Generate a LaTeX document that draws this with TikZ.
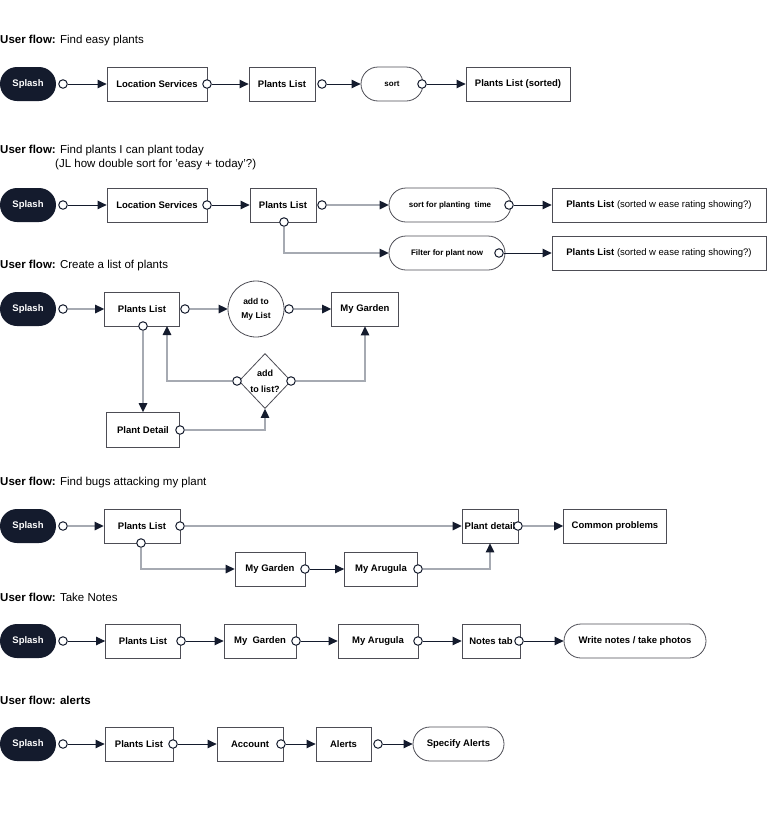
\documentclass[tikz,border=0pt]{standalone}
\usepackage{fontspec}
\setmainfont{Liberation Sans}
\usetikzlibrary{shapes.geometric,arrows.meta}
\definecolor{navy}{HTML}{141B2D}
\definecolor{edge}{HTML}{4D4D55}
\definecolor{wire}{HTML}{A6AAB2}
\tikzstyle{splash}=[rectangle,rounded corners=17pt,fill=navy,text=white,
font=\bfseries\fontsize{9.5}{11}\selectfont,minimum width=56pt,minimum height=34pt,inner sep=0pt]
\tikzstyle{screen}=[rectangle,draw=edge,fill=white,line width=0.8pt,
font=\bfseries\fontsize{9.5}{11}\selectfont,minimum height=34pt,inner sep=0pt]
\tikzstyle{action}=[screen,rounded corners=17pt]
\tikzstyle{small}=[font=\bfseries\fontsize{8}{9}\selectfont]
\tikzstyle{port}=[circle,draw=navy,fill=white,line width=1pt,inner sep=0pt,minimum size=8.5pt]
\tikzstyle{title}=[anchor=west,inner sep=0pt,font=\fontsize{11.5}{13}\selectfont]
\tikzstyle{flow}=[-{Triangle[length=9pt,width=8.5pt,color=navy]},draw=navy,line width=0.9pt]
\tikzstyle{link}=[flow,draw=wire,line width=1.4pt]

\begin{document}
\begin{tikzpicture}[x=1pt,y=-1pt]
	\useasboundingbox (0,0) rectangle (774,825);
	
	% find easy plants
	\node  (t1)   at (0,41) [title] {\textbf{User flow:} Find easy plants};
	\node  (a0)   at (28,84) [splash] {Splash};
	\node  (a0p)  at (63,84) [port] {};
	\node  (a1)   at (157,84) [screen,minimum width=100pt] {Location Services};
	\node  (a1p)  at (207,84) [port] {};
	\node  (a2)   at (282,84) [screen,minimum width=66pt] {Plants List};
	\node  (a2p)  at (322,84) [port] {};
	\node  (a3)   at (392,84) [action,small,minimum width=62pt] {sort};
	\node  (a3p)  at (422,84) [port] {};
	\node  (a4)   at (518,84) [screen,minimum width=104pt] {Plants List (sorted)};
	
	\draw [flow] (a0p) to (a1);
	\draw [flow] (a1p) to (a2);
	\draw [flow] (a2p) to (a3);
	\draw [flow] (a3p) to (a4);
	
	% find plants i can plant today
	\node  (t2)   at (0,151) [title] {\textbf{User flow:} Find plants I can plant today};
	\node  (t2b)  at (55,165) [title] {(JL how double sort for 'easy + today'?)};
	\node  (b0)   at (28,205) [splash] {Splash};
	\node  (b0p)  at (63,205) [port] {};
	\node  (b1)   at (157,205) [screen,minimum width=100pt] {Location Services};
	\node  (b1p)  at (207,205) [port] {};
	\node  (b2)   at (283,205) [screen,minimum width=66pt] {Plants List};
	\node  (b2p)  at (322,205) [port] {};
	\node  (b2d)  at (284,222) [port] {};
	\node  (b3)   at (450,205) [action,small,minimum width=122pt] {sort for planting\ \ time};
	\node  (b3p)  at (509,205) [port] {};
	\node  (b4)   at (659,205) [screen,font=\fontsize{9.5}{11}\selectfont,minimum width=214pt] {\textbf{Plants List} (sorted w ease rating showing?)};
	\node  (b5)   at (447,253) [action,small,minimum width=116pt] {Filter for plant now};
	\node  (b5p)  at (499,253) [port] {};
	\node  (b6)   at (659,253) [screen,font=\fontsize{9.5}{11}\selectfont,minimum width=214pt] {\textbf{Plants List} (sorted w ease rating showing?)};
	
	\draw [flow] (b0p) to (b1);
	\draw [flow] (b1p) to (b2);
	\draw [link] (b2p) to (b3);
	\draw [link] (b2d) |- (b5);
	\draw [flow] (b3p) to (b4);
	\draw [flow] (b5p) to (b6);
	
	% create a list of plants
	\node  (t3)   at (0,266) [title] {\textbf{User flow:} Create a list of plants};
	\node  (c0)   at (28,309) [splash] {Splash};
	\node  (c0p)  at (63,309) [port] {};
	\node  (c1)   at (142,309) [screen,minimum width=75pt] {Plants List};
	\node  (c1p)  at (185,309) [port] {};
	\node  (c1d)  at (143,326) [port] {};
	\coordinate (c1b) at (167,326);
	\node  (c2)   at (256,309) [screen,circle,minimum size=56pt,align=center,
	  font=\bfseries\fontsize{8.5}{14}\selectfont] {add to\\My List};
	\node  (c2p)  at (289,309) [port] {};
	\node  (c5)   at (365,309) [screen,minimum width=67pt] {My Garden};
	\node  (c3)   at (265,381) [screen,diamond,minimum width=52pt,minimum height=55pt,align=center,
	  font=\bfseries\fontsize{9}{16}\selectfont] {add\\to list?};
	\node  (c3l)  at (237,381) [port] {};
	\node  (c3r)  at (291,381) [port] {};
	\node  (c4)   at (143,430) [screen,minimum width=73pt,minimum height=35pt] {Plant Detail};
	\node  (c4p)  at (180,430) [port] {};
	
	\draw [link] (c0p) to (c1);
	\draw [link] (c1p) to (c2);
	\draw [link] (c2p) to (c5);
	\draw [link] (c1d) to (c4);
	\draw [link] (c3l) -| (c1b);
	\draw [link] (c3r) -| (c5);
	\draw [link] (c4p) -| (c3);
	
	% find bugs attacking my plant
	\node  (t4)   at (0,483) [title] {\textbf{User flow:} Find bugs attacking my plant};
	\node  (d0)   at (28,526) [splash] {Splash};
	\node  (d0p)  at (63,526) [port] {};
	\node  (d1)   at (142,526) [screen,minimum width=76pt] {Plants List};
	\node  (d1p)  at (180,526) [port] {};
	\node  (d1d)  at (141,543) [port] {};
	\node  (d4)   at (490,526) [screen,minimum width=56pt] {Plant detail};
	\node  (d4p)  at (518,526) [port] {};
	\node  (d5)   at (615,526) [screen,minimum width=103pt] {Common problems};
	\node  (d2)   at (270,569) [screen,minimum width=70pt] {My Garden};
	\node  (d2p)  at (305,569) [port] {};
	\node  (d3)   at (381,569) [screen,minimum width=73pt] {My Arugula};
	\node  (d3p)  at (418,569) [port] {};
	
	\draw [link] (d0p) to (d1);
	\draw [link] (d1p) to (d4);
	\draw [link] (d1d) |- (d2);
	\draw [flow] (d2p) to (d3);
	\draw [link] (d3p) -| (d4);
	\draw [link] (d4p) to (d5);
	
	% take notes
	\node  (t5)   at (0,597) [title] {\textbf{User flow:} Take Notes};
	\node  (e0)   at (28,641) [splash] {Splash};
	\node  (e0p)  at (63,641) [port] {};
	\node  (e1)   at (143,641) [screen,minimum width=75pt] {Plants List};
	\node  (e1p)  at (181,641) [port] {};
	\node  (e2)   at (260,641) [screen,minimum width=72pt] {My\ \ Garden};
	\node  (e2p)  at (296,641) [port] {};
	\node  (e3)   at (378,641) [screen,minimum width=80pt] {My Arugula};
	\node  (e3p)  at (418,641) [port] {};
	\node  (e4)   at (491,641) [screen,minimum width=58pt] {Notes tab};
	\node  (e4p)  at (519,641) [port] {};
	\node  (e5)   at (635,641) [action,minimum width=142pt] {Write notes / take photos};
	
	\draw [flow] (e0p) to (e1);
	\draw [flow] (e1p) to (e2);
	\draw [flow] (e2p) to (e3);
	\draw [flow] (e3p) to (e4);
	\draw [flow] (e4p) to (e5);
	
	% alerts
	\node  (t6)   at (0,700) [title] {\textbf{User flow: alerts}};
	\node  (f0)   at (28,744) [splash] {Splash};
	\node  (f0p)  at (63,744) [port] {};
	\node  (f1)   at (139,744) [screen,minimum width=68pt] {Plants List};
	\node  (f1p)  at (173,744) [port] {};
	\node  (f2)   at (250,744) [screen,minimum width=66pt] {Account};
	\node  (f2p)  at (281,744) [port] {};
	\node  (f3)   at (343.5,744) [screen,minimum width=55pt] {Alerts};
	\node  (f3p)  at (378,744) [port] {};
	\node  (f4)   at (458.5,744) [action,minimum width=91pt] {Specify Alerts};
	
	\draw [flow] (f0p) to (f1);
	\draw [flow] (f1p) to (f2);
	\draw [flow] (f2p) to (f3);
	\draw [flow] (f3p) to (f4);
	
\end{tikzpicture}
\end{document}
